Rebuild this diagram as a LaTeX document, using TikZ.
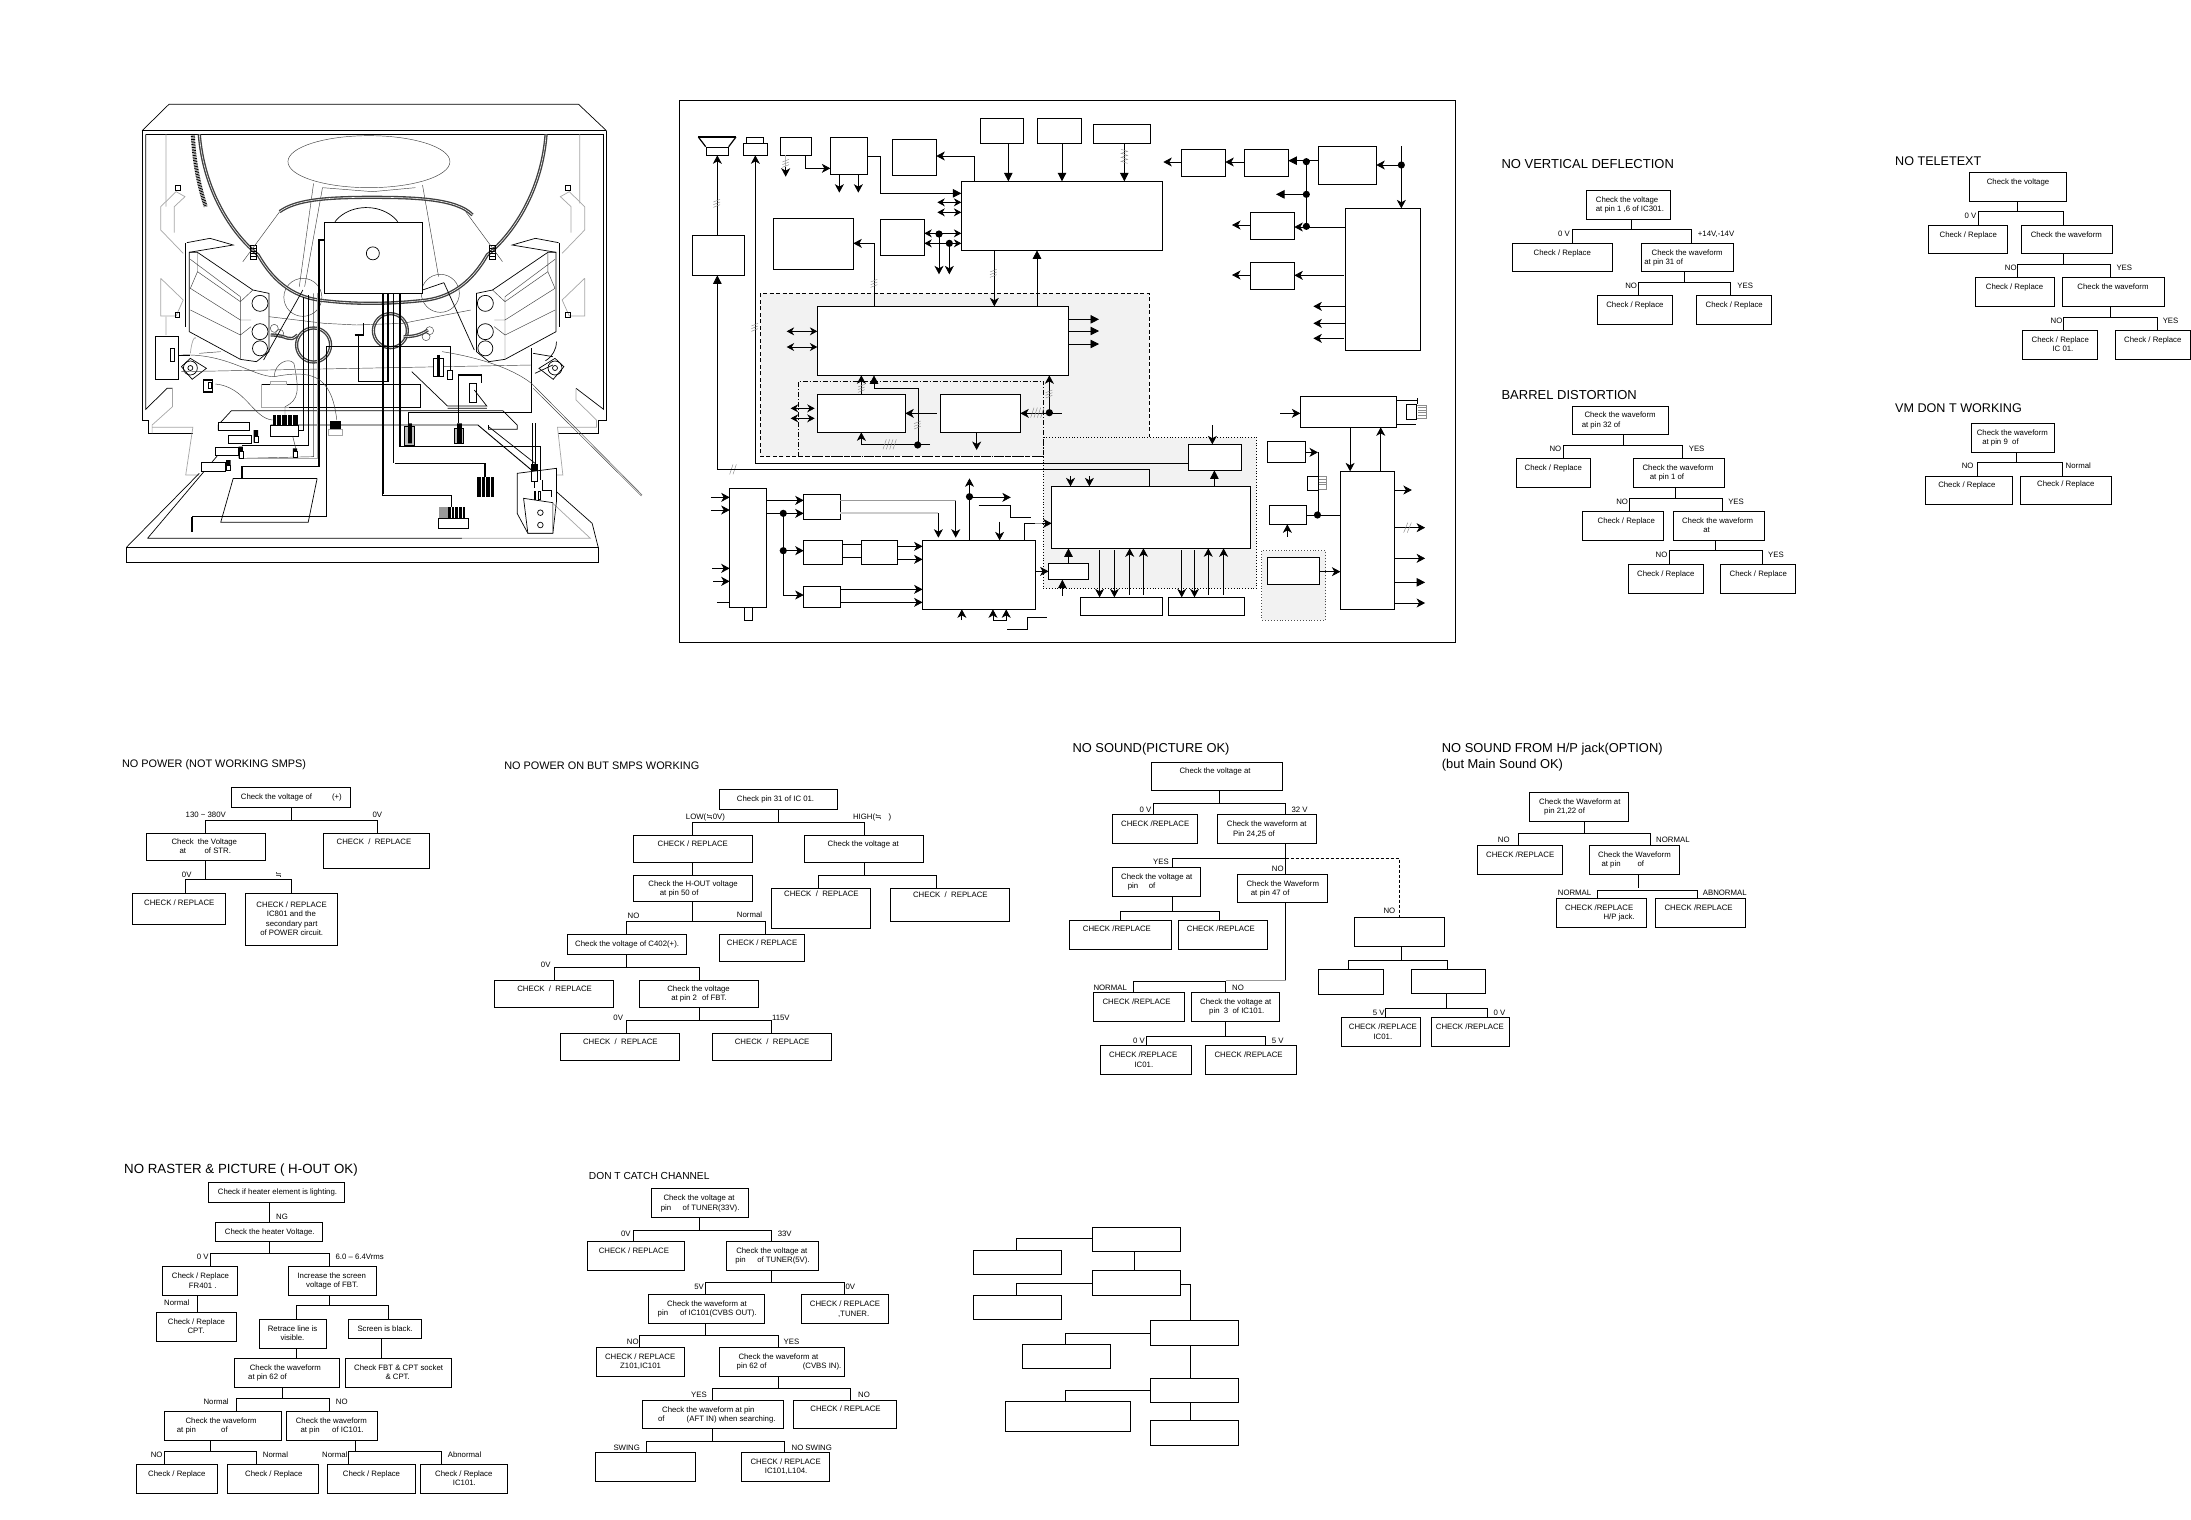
\documentclass[tikz,border=0pt]{standalone}
\usepackage{fontspec}
\setmainfont{Liberation Sans}
\newfontfamily\djv{DejaVu Sans}
\usetikzlibrary{arrows.meta}
\newcounter{tc}
\def\fs{7.8}
\def\sx{1}
\tikzset{
 bx/.style={draw=black,fill=white,line width=.9pt,inner sep=0pt,outer sep=0pt},
 ln/.style={line width=.9pt,draw=black},
 brb/.style={line width=.8pt,-{Stealth[length=8.5pt,width=9pt,inset=2.5pt]}},
 tri/.style={line width=.8pt,-{Triangle[length=8.5pt,width=8.5pt]}},
 dbl/.style={line width=.8pt,{Stealth[length=7.5pt,width=8pt,inset=2.5pt]}-{Stealth[length=7.5pt,width=8pt,inset=2.5pt]}},
 hsh/.style={draw=black!45,line width=.45pt},
 tvt/.style={draw=black!75,line width=.45pt},
 tvg/.style={draw=black!35,line width=.7pt},
 tvk/.style={draw=black,line width=.7pt},
 wr/.style={draw=black,line width=.9pt},
 wrb/.style={draw=black,line width=1.3pt},
 coil/.style={draw=black!75,line width=1.35pt,double=white,double distance=.55pt},
}
\newcommand\B[5]{\pgfmathsetmacro\bw{(#4-#2)*\sx}\pgfmathsetmacro\bh{(#5-#3)*0.33333}%
 \node[bx,minimum width=\bw pt,minimum height=\bh pt] (#1) at ({(#2+#4)/2},{(#3+#5)/2}) {};}
\newcommand\T[3]{\stepcounter{tc}\node[font=\fontsize{\fs}{9}\selectfont,anchor=base west,inner sep=0pt,yshift=-2.7pt] (t\thetc) at (#1,#2) {#3};}
\newcommand\TT[4]{\stepcounter{tc}\node[font=\fontsize{#3}{#3}\selectfont,anchor=base west,inner sep=0pt,yshift={-0.36*#3 pt}] (t\thetc) at (#1,#2) {#4};}
\newcommand\Tr[7]{\draw[ln] (#1.south -| #2,0) -- (#2,#3) (#4.north -| #5,0) -- (#5,#3) -- (#7,#3) -- (#6.north -| #7,0);}
\newcommand\Vl[3]{\draw[ln] (#1.south -| #3,0) -- (#2.north -| #3,0);}
\newcommand\D[2]{\fill (#1,#2) circle[radius=3.6pt];}
\newcommand\hv[2]{\draw[hsh] (#1-10,#2-4)--(#1+10,#2-12) (#1-10,#2+4)--(#1+10,#2-4) (#1-10,#2+12)--(#1+10,#2+4);}
\newcommand\hh[2]{\draw[hsh] (#1-8,#2+15)--(#1+2,#2-15) (#1+2,#2+15)--(#1+12,#2-15);}
\newcommand\hq[2]{\draw[hsh] (#1-18,#2+15)--(#1-8,#2-15) (#1-8,#2+15)--(#1+2,#2-15) (#1+2,#2+15)--(#1+12,#2-15) (#1+12,#2+15)--(#1+22,#2-15);}
\newcommand\ckrp{CHECK\ \ /\ \ REPLACE}
\newcommand\spk{%
 \draw[tvk,fill=white] (222,487)--(245,487)--(400,600)--(445,610)--(445,785)--(410,815)--(365,808)--(222,725)--cycle;
 \draw[tvk] (215,458)--(280,445)--(345,465)--(222,487);
 \draw[wr] (212,460)--(212,710);
 \draw[tvt] (245,487)--(245,545)--(365,635)--(400,600) (225,508)--(365,620) (225,595)--(365,690)--(395,690) (245,545)--(225,595) (225,660)--(365,735)--(395,710) (365,620)--(365,808);
 \draw[tvk] (420,640) circle[radius=8pt] (420,725) circle[radius=8pt] (420,775) circle[radius=7.5pt];
 \draw[tvg] (142,350)--(142,420)--(205,490) (142,350)--(185,305)--(210,320)--(180,350)--(180,428);
 \draw[tvg] (142,565)--(205,630)--(185,678)--(142,678)--(142,565);
 \draw[tvk] (182,285) rectangle (197,300) (182,668) rectangle (195,682);
 \draw[tvk] (200,830)--(225,805)--(270,835)--(230,868)--cycle;
 \draw[tvk] (225,834) circle[radius=7pt] (225,834) circle[radius=2.5pt];
 \draw[coil] (250,133) .. controls (262,300) and (340,430) .. (415,495) .. controls (460,580) and (520,625) .. (600,632);
 \draw[tvk] (393,467) rectangle (410,508);
 \draw[tvk] (393,475)--(410,475) (393,483)--(410,483) (393,491)--(410,491) (393,499)--(410,499);
 \draw[tvt] (372,515)--(475,365);
}
\begin{document}
\begin{tikzpicture}[x=1pt,y=-1pt]
\useasboundingbox (0,0) rectangle (2191,1519);
\fill[white] (0,0) rectangle (2191,1519);
%================ TV set
\begin{scope}[shift={(110pt,-90pt)},x=0.35714pt,y=-0.33333pt]
\draw[tvk] (90,122)--(165,43)--(1312,43)--(1390,122);
\draw[tvk] (90,122)--(1390,122) (100,133)--(1382,133);
\draw[tvk] (90,122)--(90,990)--(107,990)--(107,1030)--(232,1030);
\draw[tvk] (1390,122)--(1390,990)--(1368,990)--(1368,1030)--(1253,1030);
\draw[tvk] (100,133)--(100,958)--(160,895)--(175,895) (1382,133)--(1382,958)--(1305,895);
\draw[tvg] (157,133)--(157,350) (157,680)--(157,735) (1315,133)--(1315,340) (175,895)--(175,950)--(118,1005)--(118,1030) (1305,895)--(1305,930)--(1362,990)--(1362,1012)--(1253,1012)--(1268,1155)--(1250,1155) (118,1012)--(232,1012)--(212,1155)--(250,1155);
\draw[tvk] (46,1372) rectangle (1367,1417);
\draw[tvk] (46,1372)--(250,1150) (105,1345)--(300,1098) (105,1345)--(985,1345);
\draw[tvg] (985,1345)--(1345,1345)--(1240,1240);
\draw[tvk] (1367,1372)--(1350,1300)--(1250,1205);
% CRT
\draw[tvt] (725,215) ellipse[x radius=81pt,y radius=26pt];
\draw[tvt] (570,280)--(530,590) (875,285)--(920,560) (595,293)--(735,305)--(855,293) (595,293)--(545,590);
\draw[tvk] (630,395) arc[start angle=148,end angle=32,x radius=37pt,y radius=30pt];
\draw[tvt] (540,622) circle[radius=19pt] (925,610) circle[radius=19pt];
\begin{scope}\spk\end{scope}
\begin{scope}[xshift=525.36pt,xscale=-1]\spk\end{scope}
\draw[line width=4pt,dash pattern=on .8pt off .8pt] (232,133) .. controls (235,220) and (250,290) .. (268,350);
\draw[coil] (600,632) .. controls (700,645) and (800,640) .. (870,632);
\draw[coil] (475,365) .. controls (520,330) and (600,322) .. (730,322) .. controls (850,322) and (970,325) .. (1015,375);
\draw[coil] (570,765) circle[radius=17pt] (785,722) circle[radius=17pt];
\draw[coil] (450,735) .. controls (500,735) and (500,760) .. (525,735);
\draw[coil] (822,740) .. controls (850,740) and (870,735) .. (890,720);
\draw[tvt] (460,715) circle[radius=4pt] (475,730) circle[radius=4pt] (895,722) circle[radius=4pt] (885,740) circle[radius=4pt];
\draw[tvt] (445,680)--(600,700)--(690,705)--(820,700)--(1010,660);
\draw[tvt] (250,790)--(310,785) (200,845)--(1180,825);
\draw[tvk] (540,600)--(430,810) (935,578)--(1020,780) (875,600)--(935,578);
\draw[tvg] (225,790) .. controls (230,740) and (240,740) .. (240,745);
% main box and wires
\node[draw=black,line width=1pt,fill=white,minimum width=98.2pt,minimum height=71pt,inner sep=0,outer sep=0] (mb) at (737.5,503.5) {};
\draw[tvk] (736,490) circle[radius=6.5pt];
\draw[wrb] (600,450)--(585,450)--(585,1130)--(370,1130)--(370,1165);
\draw[wrb] (345,1165)--(580,1165);
\draw[tvk] (345,1165)--(310,1297)--(555,1297)--(580,1165);
\draw[wr] (605,768)--(605,1280)--(230,1280)--(230,1320) (605,768)--(953,768)--(953,840);
\draw[wrb] (685,735)--(695,735)--(695,875)--(778,875)--(778,610) (695,735)--(710,735)--(710,700);
\draw[wr] (763,610)--(763,1215)--(957,1215)--(957,1250);
\draw[wrb] (765,610)--(765,1213);
\draw[wr] (795,610)--(795,1120);
\draw[wrb] (797,1120)--(1050,1120)--(1050,1160) (812,610)--(812,1070)--(1205,1070)--(1205,1170);
\draw[wrb] (1180,775)--(1180,968)--(835,968)--(835,1010);
\draw[tvk] (425,882)--(870,882)--(870,952)--(500,952);
\draw[tvg] (425,882)--(425,952)--(500,952) (450,882) rectangle (495,875);
\draw[tvk] (340,962)--(1100,962)--(1140,1005)--(1140,1018)--(1060,1018)--(1060,1005) (340,962)--(303,1005)--(303,1020)--(365,1020)--(390,1000);
\draw[wr] (450,1005)--(1030,1005)--(1180,1140);
\draw[tvk] (1060,1010)--(1190,1120);
\draw[tvk] (845,845)--(945,948)--(1055,948)--(1020,900) (945,955)--(1055,955);
\draw[wrb] (975,855)--(1040,855)--(1040,880);
\draw[tvk] (975,855)--(975,1000);
\draw[tvk] (1005,880) rectangle (1025,938);
\draw[wr] (450,1022)--(542,1022)--(542,620);
\draw[wr] (557,615)--(557,1067)--(370,1067);
\draw[tvt] (570,610)--(570,1100)--(370,1105);
\draw[tvg] (580,610)--(580,1105)--(370,1105);
\draw[tvt] (295,882) .. controls (380,890) and (400,985) .. (455,990);
\draw[tvt] (200,795) .. controls (330,790) and (400,860) .. (460,860) .. controls (560,840) and (620,850) .. (635,990);
\draw[tvt] (460,860) .. controls (460,820) and (500,800) .. (515,820) .. controls (530,900) and (530,930) .. (490,950) -- (490,980);
\draw[tvt] (505,1010)--(520,1075);
\draw[tvt] (930,785) .. controls (1020,800) and (1120,830) .. (1180,880) -- (1490,1215);
\draw[tvt] (1185,895)--(1488,1218);
\draw[tvk] (1185,790)--(1240,800) (1190,850)--(1240,825);
\draw[tvk] (1250,755) arc[start angle=0,end angle=-60,radius=22pt];
% connector blocks
\fill (455,975) rectangle (525,1005);
\draw[white,line width=.5pt] (465,975)--(465,1005) (480,975)--(480,1005) (495,975)--(495,1005) (510,975)--(510,1005);
\draw[tvk,fill=white] (450,1005) rectangle (528,1040);
\fill (617,992) rectangle (647,1018);
\draw[tvg,fill=white] (612,1018) rectangle (650,1036);
\draw[tvk,fill=white] (303,998) rectangle (390,1020);
\draw[tvk,fill=white] (330,1037) rectangle (397,1060) (295,1071) rectangle (360,1095) (257,1116) rectangle (322,1144);
\fill (402,1020) rectangle (415,1058) (360,1070) rectangle (372,1105) (325,1110) rectangle (338,1142) (512,1075) rectangle (524,1102);
\draw[tvk,fill=white] (405,1040) rectangle (415,1058) (362,1085) rectangle (372,1105) (326,1125) rectangle (338,1142) (512,1085) rectangle (524,1102);
\draw[tvk,fill=white] (127,738) rectangle (192,868);
\draw[tvk] (168,775) rectangle (180,815);
\draw[tvk] (192,795)--(225,795);
\draw[wrb] (262,870) rectangle (287,906);
\draw[tvk] (275,878) rectangle (285,896);
\draw[tvk,fill=black!25] (825,1010) rectangle (852,1065) (965,1015) rectangle (990,1060);
\fill (835,1000) rectangle (845,1060) (972,1000) rectangle (985,1060);
\draw[tvk,fill=white] (905,805) rectangle (932,860) (945,840) rectangle (958,868);
\fill (915,795) rectangle (925,860);
\fill (1028,1160) rectangle (1075,1220);
\draw[white,line width=.5pt] (1040,1160)--(1040,1220) (1052,1160)--(1052,1220) (1064,1160)--(1064,1220);
\fill (945,1250) rectangle (995,1285);
\fill[black!40] (922,1250) rectangle (945,1285);
\draw[white,line width=.4pt] (955,1250)--(955,1285) (965,1250)--(965,1285) (975,1250)--(975,1285) (985,1250)--(985,1285);
\draw[tvk,fill=white] (920,1285) rectangle (1002,1315);
\fill (228,1280) rectangle (233,1325);
% flyback
\draw[tvk] (1140,1150)--(1250,1135)--(1250,1235)--(1240,1330)--(1170,1330)--(1140,1270)--cycle;
\draw[tvk,fill=white] (1158,1225)--(1240,1238)--(1240,1330)--(1170,1330)--cycle;
\draw[tvk] (1205,1268) circle[radius=2.8pt] (1205,1305) circle[radius=2.8pt];
\draw[tvk] (1182,1000)--(1182,1125) (1192,1000)--(1192,1125);
\fill (1180,1122) rectangle (1197,1140);
\draw[tvk] (1180,1140) rectangle (1197,1175);
\draw[wr] (1188,1175)--(1188,1195);
\draw[wr] (1210,1170)--(1210,1200)--(1235,1200)--(1235,1222);
\draw[tvk] (1187,1205) rectangle (1192,1228) (1200,1205) rectangle (1205,1228);
\end{scope}
%================ Block diagram: backgrounds
\begin{scope}
\fill[black!5] (760.7,293.3)--(1149.3,293.3)--(1149.3,437.3)--(1256.7,437.3)--(1256.7,588.3)--(1043.3,588.3)--(1043.3,456.7)--(760.7,456.7)--cycle;
\draw[line width=.8pt,dash pattern=on 4pt off 2.5pt] (1043.3,456.7)--(760.7,456.7)--(760.7,293.3)--(1149.3,293.3)--(1149.3,437.3);
\draw[dash pattern=on 5pt off 2pt on 1pt off 2pt,line width=.8pt] (798.3,456.7)--(798.3,381)--(1043.3,381)--(1043.3,456.7)--(798.3,456.7);
\draw[dotted,line width=.8pt] (1043.3,456.7)--(1043.3,588.3)--(1256.7,588.3)--(1256.7,437.3)--(1043.3,437.3)--cycle;
\fill[black!5] (1261.8,550.7) rectangle (1325.6,620);
\draw[dotted,draw=black!70,line width=.9pt] (1261.8,550.7) rectangle (1325.6,620);
\node[draw=black,line width=1pt,inner sep=0,outer sep=0,minimum width=776.4pt,minimum height=542pt] (frame) at (1067.5,371.3) {};
\end{scope}
%================ zoom-2 part
\begin{scope}[shift={(670pt,-90pt)},x=0.33333pt,y=-0.33333pt]\def\sx{0.33333}
\draw[line width=1.6pt] (85,141)--(198,141);
\draw[line width=1.2pt] (85,141)--(107,170) (198,141)--(176,170);
\B{spk}{109}{172}{175}{196}
\B{camt}{229}{142}{281}{160}
\B{cam}{220}{160}{293}{196}
\B{rem}{331}{142}{424}{196}
\B{d4}{481}{142}{592}{253}
\B{d5}{667}{148}{799}{256}
\B{d6}{931}{85}{1060}{160}
\B{d7}{1102}{85}{1234}{160}
\B{d8}{1270}{103}{1441}{160}
\B{mainb}{874}{274}{1477}{481}
\B{lb}{67}{436}{223}{556}
\B{big}{310}{385}{550}{538}
\B{sm}{631}{388}{763}{496}
\B{ic}{442}{649}{1195}{856}
\B{ic2}{442}{913}{706}{1027}
\B{ic3}{811}{913}{1051}{1027}
\draw[brb] (lb.north -| 142,0)--(spk.south -| 142,0);
\hv{140}{340}
\draw[tri] (142,1138)--(lb.south -| 142,0);
\draw[brb] (256,1120)--(cam.south -| 256,0);
\hv{254}{712}
\hh{187}{1138}
\draw[draw=black!30,line width=.8pt] (rem.south -| 347,0)--(347,230);
\hv{347}{220}
\draw[brb] (347,232)--(347,260);
\draw[brb] (rem.south -| 405,0)--(405,235)--(d4.west |- 0,235);
\draw[brb] (d4.south -| 508,0)--(508,308);
\draw[brb] (d4.south -| 565,0)--(565,308);
\draw[tri] (d4.east |- 0,198)--(631,198)--(631,310)--(mainb.west |- 0,310);
\draw[brb] (mainb.north -| 913,0)--(913,198)--(d5.east |- 0,198);
\draw[tri] (d6.south -| 1015,0)--(mainb.north -| 1015,0);
\draw[tri] (d7.south -| 1176,0)--(mainb.north -| 1176,0);
\draw[tri] (d8.south -| 1363,0)--(mainb.north -| 1363,0);
\draw[hsh] (1353,178)--(1373,184)--(1353,190)--(1373,196)--(1353,202)--(1373,208)--(1353,214)--(1373,220);
\draw[dbl] (802,337)--(mainb.west |- 0,337);
\draw[dbl] (802,367)--(mainb.west |- 0,367);
\draw[dbl] (sm.east |- 0,430)--(mainb.west |- 0,430);
\draw[dbl] (sm.east |- 0,460)--(mainb.west |- 0,460);
\D{807}{432}\D{838}{460}
\draw[brb] (807,432)--(807,553);
\draw[brb] (838,460)--(838,553);
\draw[brb] (ic.north -| 613,0)--(613,460)--(big.east |- 0,460);
\hv{612}{580}
\draw[brb] (mainb.south -| 973,0)--(ic.north -| 973,0);
\hv{970}{550}
\draw[tri] (ic.north -| 1101,0)--(mainb.south -| 1101,0);
\draw[dbl] (350,724)--(ic.west |- 0,724);
\draw[dbl] (350,771)--(ic.west |- 0,771);
\draw[tri] (ic.east |- 0,688)--(1287,688);
\draw[tri] (ic.east |- 0,723)--(1287,723);
\draw[tri] (ic.east |- 0,762)--(1287,762);
\draw[brb] (ic2.north -| 574,0)--(ic.south -| 574,0);
\hv{574}{895}
\draw[tri] (745,1065)--(745,895)--(612,895)--(ic.south -| 612,0);
\hv{742}{1005}
\D{743}{1065}
\draw[brb] (780,1063)--(574,1063)--(ic2.south -| 574,0);
\hq{657}{1063}
\draw[brb] (800,970)--(ic2.east |- 0,970);
\draw[brb] (1175,970)--(ic3.east |- 0,970);
\D{1138}{968}
\hq{1100}{968}
\draw[brb] (1138,968)--(ic.south -| 1138,0);
\hv{1137}{912}
\draw[brb] (ic3.south -| 920,0)--(920,1080);
\draw[dbl] (362,955)--(434,955);
\draw[dbl] (362,985)--(434,985);
\end{scope}
%================ zoom-3 part
\begin{scope}[shift={(1060pt,-90pt)},x=0.33333pt,y=-0.33333pt]\def\sx{0.33333}
\B{d9}{364}{178}{496}{259}
\B{d10}{553}{178}{685}{259}
\B{d11}{775}{169}{949}{283}
\B{tall}{856}{355}{1081}{781}
\B{d12}{571}{367}{703}{448}
\B{d13}{571}{517}{703}{598}
\B{d14}{721}{919}{1009}{1012}
\draw[brb] (d9.west |- 0,216)--(310,216);
\draw[brb] (d10.west |- 0,216)--(d9.east |- 0,216);
\draw[tri] (d11.west |- 0,212)--(d10.east |- 0,212);
\D{739}{215}\D{739}{313}\D{739}{409}
\draw[line width=.8pt] (739,215)--(739,409);
\draw[tri] (739,313)--(648,313);
\draw[brb] (tall.west |- 0,411)--(d12.east |- 0,411);
\draw[brb] (d12.west |- 0,405)--(516,405);
\draw[brb] (852,556)--(d13.east |- 0,556);
\draw[brb] (d13.west |- 0,555)--(516,555);
\draw[brb] (tall.west |- 0,649)--(760,649);
\draw[brb] (tall.west |- 0,700)--(760,700);
\draw[brb] (852,745)--(760,745);
\draw[brb] (1024,168)--(tall.north -| 1024,0);
\D{1024}{225}
\draw[brb] (1024,225)--(d11.east |- 0,225);
\draw[brb] (660,970)--(d14.west |- 0,970);
\draw[line width=.8pt] (d14.east |- 0,932)--(1072,932) (d14.east |- 0,1003)--(1068,1003) (1072,925)--(1072,943);
\draw[line width=.8pt,fill=white] (1039,943) rectangle (1070,988);
\draw[hsh] (1070,945)--(1098,945)--(1098,985)--(1070,985) (1075,952)--(1098,952) (1075,960)--(1098,960) (1075,968)--(1098,968) (1075,976)--(1098,976);
\end{scope}
%================ zoom-4 part
\begin{scope}[shift={(670pt,-420pt)},x=0.5102pt,y=-0.33333pt]\def\sx{0.5102}
\B{tun}{117}{205}{189}{562}
\B{stub}{146}{562}{162}{601}
\B{f1}{262}{223}{334}{298}
\B{f2}{262}{361}{338}{433}
\B{f3}{375}{361}{446}{433}
\B{f4}{262}{499}{334}{562}
\B{proc}{495}{361}{716}{568}
\B{sb}{742}{430}{820}{479}
\B{bb}{748}{199}{1138}{385}
\B{lo1}{805}{532}{965}{586}
\B{lo2}{977}{532}{1126}{586}
\B{b16}{1016}{73}{1120}{151}
\B{b15}{1171}{65}{1246}{127}
\B{b17}{1175}{257}{1248}{313}
\B{gb}{1171}{412}{1273}{493}
\B{tr}{1314}{154}{1420}{568}
\draw[line width=.8pt] (167,130)--(b16.west |- 0,130);
\draw[line width=.8pt] (93,149)--(940,149)--(bb.north -| 940,0);
\draw[brb] (1063,15)--(b16.north -| 1063,0);
\draw[tri] (bb.north -| 1067,0)--(b16.south -| 1067,0);
\draw[brb] (80,232)--(tun.west |- 0,232);
\draw[brb] (80,270)--(tun.west |- 0,270);
\draw[brb,line width=1.4pt] (83,445)--(tun.west |- 0,445);
\draw[brb,line width=1.4pt] (85,484)--(tun.west |- 0,484);
\draw[line width=.8pt] (92,547)--(tun.west |- 0,547);
\draw[brb] (tun.east |- 0,241)--(f1.west |- 0,241);
\draw[brb] (tun.east |- 0,280)--(f1.west |- 0,280);
\D{222}{280}\D{222}{392}
\draw[brb] (222,280)--(222,525)--(f4.west |- 0,525);
\draw[brb] (222,392)--(f2.west |- 0,392);
\draw[line width=.8pt] (f2.east |- 0,373)--(f3.west |- 0,373) (f2.east |- 0,411)--(f3.west |- 0,411);
\draw[brb] (f3.east |- 0,379)--(proc.west |- 0,379);
\draw[brb] (f3.east |- 0,418)--(proc.west |- 0,418);
\draw[brb] (f4.east |- 0,508)--(proc.west |- 0,508);
\draw[brb] (f4.east |- 0,547)--(proc.west |- 0,547);
\draw[draw=black!40,line width=.8pt] (f1.east |- 0,241)--(560,241);
\draw[draw=black!20,line width=1.2pt] (f1.east |- 0,279)--(526,279);
\draw[brb] (560,243)--(560,353);
\draw[brb] (526,279)--(526,353);
\draw[brb] (proc.north -| 587,0)--(587,175);
\D{587}{230}
\draw[brb] (587,232)--(668,232);
\draw[line width=.8pt] (605,257)--(667,257)--(667,293)--(707,293);
\draw[brb] (646,305)--(proc.north -| 646,0);
\draw[line width=.8pt] (proc.north -| 695,0)--(695,310)--(715,310);
\draw[draw=black!40,line width=.8pt] (715,310)--(735,310);
\draw[brb] (730,310)--(bb.west |- 0,310);
\draw[brb] (572,600)--(proc.south -| 572,0);
\draw[brb] (633,602)--(proc.south -| 633,0);
\draw[brb] (659,602)--(proc.south -| 659,0);
\draw[line width=.8pt] (633,602)--(659,602) (661,628)--(701,628)--(701,592)--(738,592);
\draw[brb] (proc.east |- 0,454)--(sb.west |- 0,454);
\draw[tri] (sb.north -| 781,0)--(bb.south -| 781,0);
\draw[tri] (769,527)--(sb.south -| 769,0);
\draw[brb] (785,168)--(bb.north -| 785,0);
\draw[brb] (822,168)--(bb.north -| 822,0);
\draw[brb] (842,391)--(lo1.north -| 842,0);
\draw[brb] (871,391)--(lo1.north -| 871,0);
\draw[brb] (901,525)--(bb.south -| 901,0);
\draw[brb] (928,525)--(bb.south -| 928,0);
\draw[brb] (1003,391)--(lo2.north -| 1003,0);
\draw[brb] (1028,391)--(lo2.north -| 1028,0);
\draw[brb] (1055,525)--(bb.south -| 1055,0);
\draw[brb] (1085,525)--(bb.south -| 1085,0);
\draw[brb] (b15.east |- 0,97)--(1270,97);
\draw[line width=.8pt] (1270,97)--(1270,285);
\draw[hsh] (1270,170)--(1287,170)--(1287,208)--(1270,208) (1272,178)--(1287,178) (1272,186)--(1287,186) (1272,194)--(1287,194);
\draw[line width=.8pt,fill=white] (1250,170) rectangle (1270,211);
\D{1269}{285}
\draw[line width=.8pt] (b17.east |- 0,286)--(tr.west |- 0,286);
\draw[brb] (1210,350)--(b17.south -| 1210,0);
\draw[brb] (gb.east |- 0,455)--(tr.west |- 0,455);
\draw[brb] (d14.south -| 1333,0)--(tr.north -| 1333,0);
\draw[brb] (tr.north -| 1393,0)--(d14.south -| 1393,0);
\draw[brb] (tr.east |- 0,210)--(1454,210);
\draw[brb] (tr.east |- 0,323)--(1480,323);
\draw[hsh] (1438,338)--(1446,308) (1445,338)--(1453,308);
\draw[brb] (tr.east |- 0,415)--(1480,415);
\draw[tri] (tr.east |- 0,487)--(1480,487);
\draw[brb] (tr.east |- 0,549)--(1480,549);
\end{scope}
%================ top right flowcharts
\begin{scope}[shift={(1480pt,-140pt)},x=0.4535pt,y=-0.33333pt]\def\sx{0.4535}
\TT{47}{70}{13}{NO VERTICAL DEFLECTION}
\B{va}{235}{151}{420}{238}\T{255}{178}{Check the voltage}\T{255}{205}{at pin 1 ,6 of IC301.}
\B{vb}{72}{310}{292}{394}\T{118}{337}{Check / Replace}
\B{vc}{356}{310}{559}{394}\T{378}{337}{Check the waveform}\T{362}{365}{at pin 31 of}
\Tr{va}{334}{268}{vb}{204}{vc}{467}
\T{172}{280}{0 V}\T{480}{280}{+14V,-14V}
\B{vd}{259}{466}{424}{553}\T{278}{495}{Check / Replace}
\B{ve}{477}{466}{643}{553}\T{497}{495}{Check / Replace}
\Tr{vc}{451}{427}{vd}{350}{ve}{553}
\T{320}{438}{NO}\T{567}{438}{YES}
\TT{47}{763}{13}{BARREL DISTORTION}
\B{ba}{204}{799}{416}{884}\T{230}{825}{Check the waveform}\T{224}{853}{at pin 32 of}
\B{bbb}{80}{955}{244}{1042}\T{98}{983}{Check / Replace}
\B{bc}{338}{955}{539}{1042}\T{358}{983}{Check the waveform}\T{374}{1011}{at pin 1 of}
\Tr{ba}{316}{916}{bbb}{184}{bc}{447}
\T{153}{927}{NO}\T{460}{927}{YES}
\B{bd}{226}{1114}{405}{1201}\T{259}{1141}{Check / Replace}
\B{be}{427}{1114}{628}{1201}\T{445}{1141}{Check the waveform}\T{492}{1169}{at}
\Tr{bc}{431}{1075}{bd}{330}{be}{535}
\T{300}{1085}{NO}\T{547}{1085}{YES}
\B{bf}{327}{1273}{493}{1360}\T{346}{1300}{Check / Replace}
\B{bg}{530}{1273}{696}{1360}\T{550}{1300}{Check / Replace}
\Tr{be}{519}{1231}{bf}{417}{bg}{622}
\T{387}{1243}{NO}\T{635}{1243}{YES}
\TT{915}{62}{12.6}{NO TELETEXT}
\B{ta}{1079}{97}{1293}{184}\T{1117}{124}{Check the voltage}
\B{tb}{989}{255}{1163}{340}\T{1013}{283}{Check / Replace}
\B{tcc}{1194}{255}{1395}{340}\T{1214}{283}{Check the waveform}
\Tr{ta}{1185}{214}{tb}{1099}{tcc}{1287}
\T{1068}{226}{0 V}
\B{td}{1093}{412}{1267}{499}\T{1115}{441}{Check / Replace}
\B{te}{1285}{412}{1510}{499}\T{1317}{441}{Check the waveform}
\Tr{tcc}{1287}{373}{td}{1185}{te}{1390}
\T{1157}{384}{NO}\T{1403}{384}{YES}
\B{tf}{1196}{571}{1362}{658}\T{1216}{599}{Check / Replace}\T{1262}{627}{IC 01.}
\B{tg}{1401}{571}{1567}{658}\T{1420}{599}{Check / Replace}
\Tr{te}{1390}{532}{tf}{1287}{tg}{1493}
\T{1258}{542}{NO}\T{1505}{542}{YES}
\TT{915}{804}{12.6}{VM DON T WORKING}
\B{vma}{1084}{850}{1267}{937}\T{1095}{877}{Check the waveform}\T{1107}{905}{at pin 9\ \ of}
\B{vmb}{982}{1009}{1174}{1093}\T{1010}{1035}{Check / Replace}
\B{vmc}{1192}{1009}{1393}{1093}\T{1228}{1032}{Check / Replace}
\Tr{vma}{1183}{967}{vmb}{1097}{vmc}{1285}
\T{1062}{978}{NO}\T{1291}{976}{Normal}
\end{scope}
%================ no power
\begin{scope}[shift={(110pt,-740pt)},x=0.47192pt,y=-0.33333pt]\def\sx{0.47192}
\TT{25}{70}{10.9}{NO POWER (NOT WORKING SMPS)}
\TT{835}{76}{10.9}{NO POWER ON BUT SMPS WORKING}
\B{pa}{257}{142}{510}{202}\T{277}{170}{Check the voltage of}\T{470}{170}{(+)}
\B{pb}{77}{280}{330}{361}\T{130}{305}{Check\ \ the Voltage}\T{147}{333}{at}\T{200}{333}{of STR.}
\B{pc}{452}{280}{677}{385}\T{480}{304}{\ckrp}
\Tr{pa}{385}{241}{pb}{202}{pc}{567}
\T{160}{225}{130 \textasciitilde{} 380V}\T{556}{225}{0V}
\B{pd}{48}{460}{245}{553}\T{72}{489}{CHECK / REPLACE}
\B{pe}{287}{460}{482}{616}\T{310}{495}{CHECK / REPLACE}\T{332}{522}{IC801 and the}\T{330}{550}{secondary part}\T{318}{577}{of POWER circuit.}
\Tr{pb}{202}{418}{pd}{160}{pe}{385}
\T{152}{403}{0V}\T{350}{403}{{\djv ≒}}
\end{scope}
\begin{scope}[shift={(480pt,-770pt)},x=0.35714pt,y=-0.33333pt]\def\sx{0.35714}
\B{qa}{670}{58}{1001}{118}\T{719}{85}{Check pin 31 of IC 01.}
\B{qb}{429}{196}{763}{277}\T{497}{220}{CHECK / REPLACE}
\B{qc}{908}{196}{1242}{277}\T{973}{220}{Check the voltage at}
\Tr{qa}{835}{157}{qb}{595}{qc}{1077}
\T{576}{141}{LOW({\djv ≒}0V)}\T{1044}{141}{HIGH({\djv ≒}\hspace{7pt})}
\B{qd}{429}{316}{763}{394}\T{471}{340}{Check the H-OUT voltage}\T{503}{367}{at pin 50 of}
\Vl{qb}{qd}{595}
\B{qe}{245}{493}{578}{553}\T{266}{521}{Check the voltage of C402(+).}
\B{qf}{670}{493}{909}{574}\T{691}{517}{CHECK / REPLACE}
\Tr{qd}{595}{454}{qe}{411}{qf}{799}
\T{413}{438}{NO}\T{719}{434}{Normal}
\B{qg}{40}{631}{374}{712}\T{104}{655}{\ckrp}
\B{qh}{446}{631}{780}{712}\T{524}{656}{Check the voltage}\T{535}{684}{at pin 2\hspace{3pt} of FBT.}
\Tr{qe}{411}{592}{qg}{208}{qh}{614}
\T{170}{583}{0V}
\B{qi}{225}{790}{559}{871}\T{288}{814}{\ckrp}
\B{qj}{651}{790}{985}{871}\T{713}{814}{\ckrp}
\Tr{qh}{614}{751}{qi}{411}{qj}{817}
\T{373}{742}{0V}\T{817}{742}{115V}
\B{qk}{816}{355}{1094}{475}\T{851}{371}{\ckrp}
\B{ql}{1149}{355}{1483}{454}\T{1212}{375}{\ckrp}
\Tr{qc}{1077}{316}{qk}{947}{ql}{1279}
\end{scope}
%================ no sound
\begin{scope}[shift={(1060pt,-730pt)},x=0.33333pt,y=-0.33333pt]\def\sx{0.33333}
\TT{37}{55}{12.9}{NO SOUND(PICTURE OK)}
\B{sa}{274}{97}{668}{181}\T{358}{123}{Check the voltage at}
\B{sb2}{157}{253}{413}{340}\T{183}{282}{CHECK /REPLACE}
\B{sc}{472}{253}{770}{340}\T{500}{282}{Check the waveform at}\T{519}{310}{Pin 24,25 of}
\Tr{sa}{478}{219}{sb2}{279}{sc}{677}
\T{238}{238}{0 V}\T{694}{238}{32 V}
\B{sd}{157}{412}{421}{499}\T{183}{440}{Check the voltage at}\T{203}{468}{pin}\T{266}{468}{of}
\B{se}{532}{433}{803}{517}\T{559}{460}{Check the Waveform}\T{572}{487}{at pin 47 of}
\B{sn}{883}{562}{1153}{649}
\draw[ln] (sc.south -| 677,0)--(se.north -| 677,0) (677,385)--(337,385)--(sd.north -| 337,0);
\draw[line width=.8pt,dash pattern=on 3pt off 2pt] (677,385)--(1018,385)--(sn.north -| 1018,0);
\T{279}{396}{YES}\T{635}{416}{NO}\T{970}{541}{NO}
\B{sf}{28}{571}{335}{658}\T{68}{597}{CHECK /REPLACE}
\B{sg}{355}{571}{623}{658}\T{380}{597}{CHECK /REPLACE}
\draw[ln] (sd.south -| 337,0)--(337,545) (sf.north -| 182,0)--(182,545)--(478,545)--(sg.north -| 478,0);
\B{sh}{100}{787}{374}{874}\T{127}{816}{CHECK /REPLACE}
\B{si}{394}{787}{659}{874}\T{420}{816}{Check the voltage at}\T{447}{843}{pin\ \ 3\ \ of IC101.}
\draw[ln] (se.south -| 677,0)--(677,751);
\draw[draw=black!40,line width=.7pt] (677,751)--(497,751);
\draw[ln] (sh.north -| 220,0)--(220,755)--(497,755)--(si.north -| 497,0);
\T{100}{772}{NORMAL}\T{516}{772}{NO}
\B{sj}{121}{946}{395}{1033}\T{147}{974}{CHECK /REPLACE}\T{223}{1005}{IC01.}
\B{sk}{436}{946}{710}{1033}\T{463}{974}{CHECK /REPLACE}
\Tr{si}{496}{919}{sj}{260}{sk}{617}
\T{219}{931}{0 V}\T{635}{931}{5 V}
\B{sl}{775}{718}{971}{793}
\B{sm2}{1054}{718}{1277}{790}
\Tr{sn}{1024}{690}{sl}{865}{sm2}{1163}
\B{so}{844}{862}{1082}{949}\T{866}{890}{CHECK /REPLACE}\T{940}{921}{IC01.}
\B{sp}{1114}{862}{1348}{949}\T{1127}{890}{CHECK /REPLACE}
\Tr{sm2}{1160}{835}{so}{976}{sp}{1281}
\T{938}{847}{5 V}\T{1300}{847}{0 V}
\end{scope}
%================ no sound H/P
\begin{scope}[shift={(1420pt,-730pt)},x=0.33333pt,y=-0.33333pt]\def\sx{0.33333}
\TT{65}{55}{12.9}{NO SOUND FROM H/P jack(OPTION)}
\TT{65}{103}{12.9}{(but Main Sound OK)}
\B{ha}{329}{187}{626}{274}\T{357}{214}{Check the Waveform at}\T{372}{242}{pin 21,22 of}
\B{hb}{172}{346}{428}{433}\T{198}{373}{CHECK /REPLACE}
\B{hc}{508}{346}{779}{433}\T{534}{373}{Check the Waveform}\T{544}{401}{at pin}\T{652}{401}{of}
\Tr{ha}{494}{310}{hb}{295}{hc}{691}
\T{233}{330}{NO}\T{708}{330}{NORMAL}
\B{hd}{410}{505}{679}{592}\T{435}{532}{CHECK /REPLACE}\T{550}{560}{H/P jack.}
\B{he}{706}{505}{975}{592}\T{733}{532}{CHECK /REPLACE}
\draw[ln] (hc.south -| 655,0)--(655,473);
\draw[ln] (hd.north -| 531,0)--(531,480)--(832,480)--(he.north -| 832,0);
\T{413}{488}{NORMAL}\T{848}{488}{ABNORMAL}
\end{scope}
%================ no raster
\begin{scope}[shift={(110pt,-1150pt)},x=0.33333pt,y=-0.33333pt]\def\sx{0.33333}
\TT{42}{57}{13.3}{NO RASTER \& PICTURE ( H-OUT OK)}
\B{ra}{295}{97}{703}{157}\T{323}{125}{Check if heater element is lighting.}
\B{rb}{316}{216}{638}{275}\T{344}{244}{Check the heater Voltage.}
\Vl{ra}{rb}{478}
\T{498}{200}{NG}
\B{rc}{157}{349}{383}{436}\T{185}{377}{Check / Replace}\T{236}{408}{FR401 .}
\B{rd}{535}{349}{799}{436}\T{562}{377}{Increase the screen}\T{588}{405}{voltage of FBT.}
\Tr{rb}{478}{310}{rc}{300}{rd}{658}
\T{260}{320}{0 V}\T{676}{320}{6.0 – 6.4Vrms}
\B{re}{139}{487}{380}{574}\T{173}{515}{Check / Replace}\T{232}{543}{CPT.}
\Vl{rc}{re}{263}
\T{162}{458}{Normal}
\B{rf}{448}{508}{649}{595}\T{473}{535}{Retrace line is}\T{511}{563}{visible.}
\B{rg}{715}{508}{935}{566}\T{742}{535}{Screen is black.}
\Tr{rd}{658}{466}{rf}{559}{rg}{835}
\B{rh}{373}{625}{689}{712}\T{419}{653}{Check the waveform}\T{414}{681}{at pin 62 of}
\B{ri}{706}{625}{1025}{712}\T{732}{653}{Check FBT \& CPT socket}\T{826}{681}{\& CPT.}
\Vl{rf}{rh}{559}
\Vl{rg}{ri}{814}
\B{rj}{163}{784}{515}{871}\T{226}{812}{Check the waveform}\T{200}{840}{at pin}\T{333}{840}{of}
\B{rk}{529}{784}{803}{871}\T{557}{812}{Check the waveform}\T{571}{840}{at pin}\T{666}{840}{of IC101.}
\Tr{rh}{517}{745}{rj}{380}{rk}{658}
\T{280}{755}{Normal}\T{677}{755}{NO}
\B{rl}{79}{943}{323}{1030}\T{114}{970}{Check / Replace}
\B{rm}{352}{943}{626}{1030}\T{405}{970}{Check / Replace}
\B{rn}{652}{943}{916}{1030}\T{698}{970}{Check / Replace}
\B{ro}{931}{943}{1193}{1030}\T{975}{970}{Check / Replace}\T{1028}{998}{IC101.}
\Tr{rj}{301}{904}{rl}{163}{rm}{439}
\Tr{rk}{736}{904}{rn}{715}{ro}{994}
\T{122}{914}{NO}\T{458}{914}{Normal}\T{636}{914}{Normal}\T{1013}{914}{Abnormal}
\end{scope}
%================ don't catch channel
\begin{scope}[shift={(570pt,-1150pt)},x=0.44643pt,y=-0.33333pt]\def\sx{0.44643}
\TT{42}{78}{10.2}{DON T CATCH CHANNEL}
\B{ca}{182}{115}{400}{202}\T{209}{144}{Check the voltage at}\T{203}{172}{pin}\T{252}{172}{of TUNER(33V).}
\B{cb}{39}{274}{257}{361}\T{64}{302}{CHECK / REPLACE}
\B{cc}{350}{274}{557}{361}\T{372}{302}{Check the voltage at}\T{370}{330}{pin}\T{419}{330}{of TUNER(5V).}
\Tr{ca}{290}{241}{cb}{142}{cc}{451}
\T{114}{252}{0V}\T{465}{252}{33V}
\B{cd}{176}{433}{436}{520}\T{217}{461}{Check the waveform at}\T{196}{489}{pin}\T{246}{489}{of IC101(CVBS OUT).}
\B{ce}{518}{433}{714}{520}\T{537}{460}{CHECK / REPLACE}\T{600}{490}{,TUNER.}
\Tr{cc}{451}{397}{cd}{303}{ce}{615}
\T{278}{409}{5V}\T{617}{409}{0V}
\B{cf}{59}{592}{257}{679}\T{78}{619}{CHECK / REPLACE}\T{112}{647}{Z101,IC101}
\B{cg}{335}{592}{615}{679}\T{377}{619}{Check the waveform at}\T{373}{647}{pin 62 of}\T{521}{647}{(CVBS IN).}
\Tr{cd}{303}{555}{cf}{155}{cg}{467}
\T{127}{576}{NO}\T{478}{576}{YES}
\B{ch}{162}{751}{478}{835}\T{206}{778}{Check the waveform at pin}\T{197}{806}{of}\T{261}{806}{(AFT IN) when searching.}
\B{ci}{500}{751}{731}{835}\T{538}{777}{CHECK / REPLACE}
\Tr{cg}{467}{715}{ch}{318}{ci}{628}
\T{271}{735}{YES}\T{645}{735}{NO}
\B{cj}{57}{907}{281}{994}
\B{ck}{384}{907}{581}{994}\T{404}{935}{CHECK / REPLACE}\T{436}{963}{IC101,L104.}
\Tr{ch}{319}{874}{cj}{171}{ck}{480}
\T{97}{892}{SWING}\T{496}{892}{NO SWING}
\B{xa}{1170}{232}{1367}{304}
\B{xb}{904}{301}{1101}{373}
\B{xc}{1170}{361}{1367}{436}
\B{xd}{904}{436}{1101}{508}
\B{xe}{1300}{511}{1497}{586}
\B{xf}{1013}{583}{1211}{655}
\B{xg}{1300}{685}{1497}{757}
\B{xh}{975}{754}{1256}{844}
\B{xi}{1300}{811}{1497}{886}
\draw[ln] (xa.west |- 0,265)--(1000,265)--(xb.north -| 1000,0);
\Vl{xa}{xc}{1264}
\draw[ln] (xc.west |- 0,400)--(1000,400)--(xd.north -| 1000,0);
\draw[ln] (xc.east |- 0,403)--(1390,403)--(xe.north -| 1390,0);
\draw[ln] (xe.west |- 0,550)--(1110,550)--(xf.north -| 1110,0);
\Vl{xe}{xg}{1390}
\draw[ln] (xg.west |- 0,721)--(1110,721)--(xh.north -| 1110,0);
\Vl{xg}{xi}{1390}
\end{scope}
\end{tikzpicture}
\end{document}
